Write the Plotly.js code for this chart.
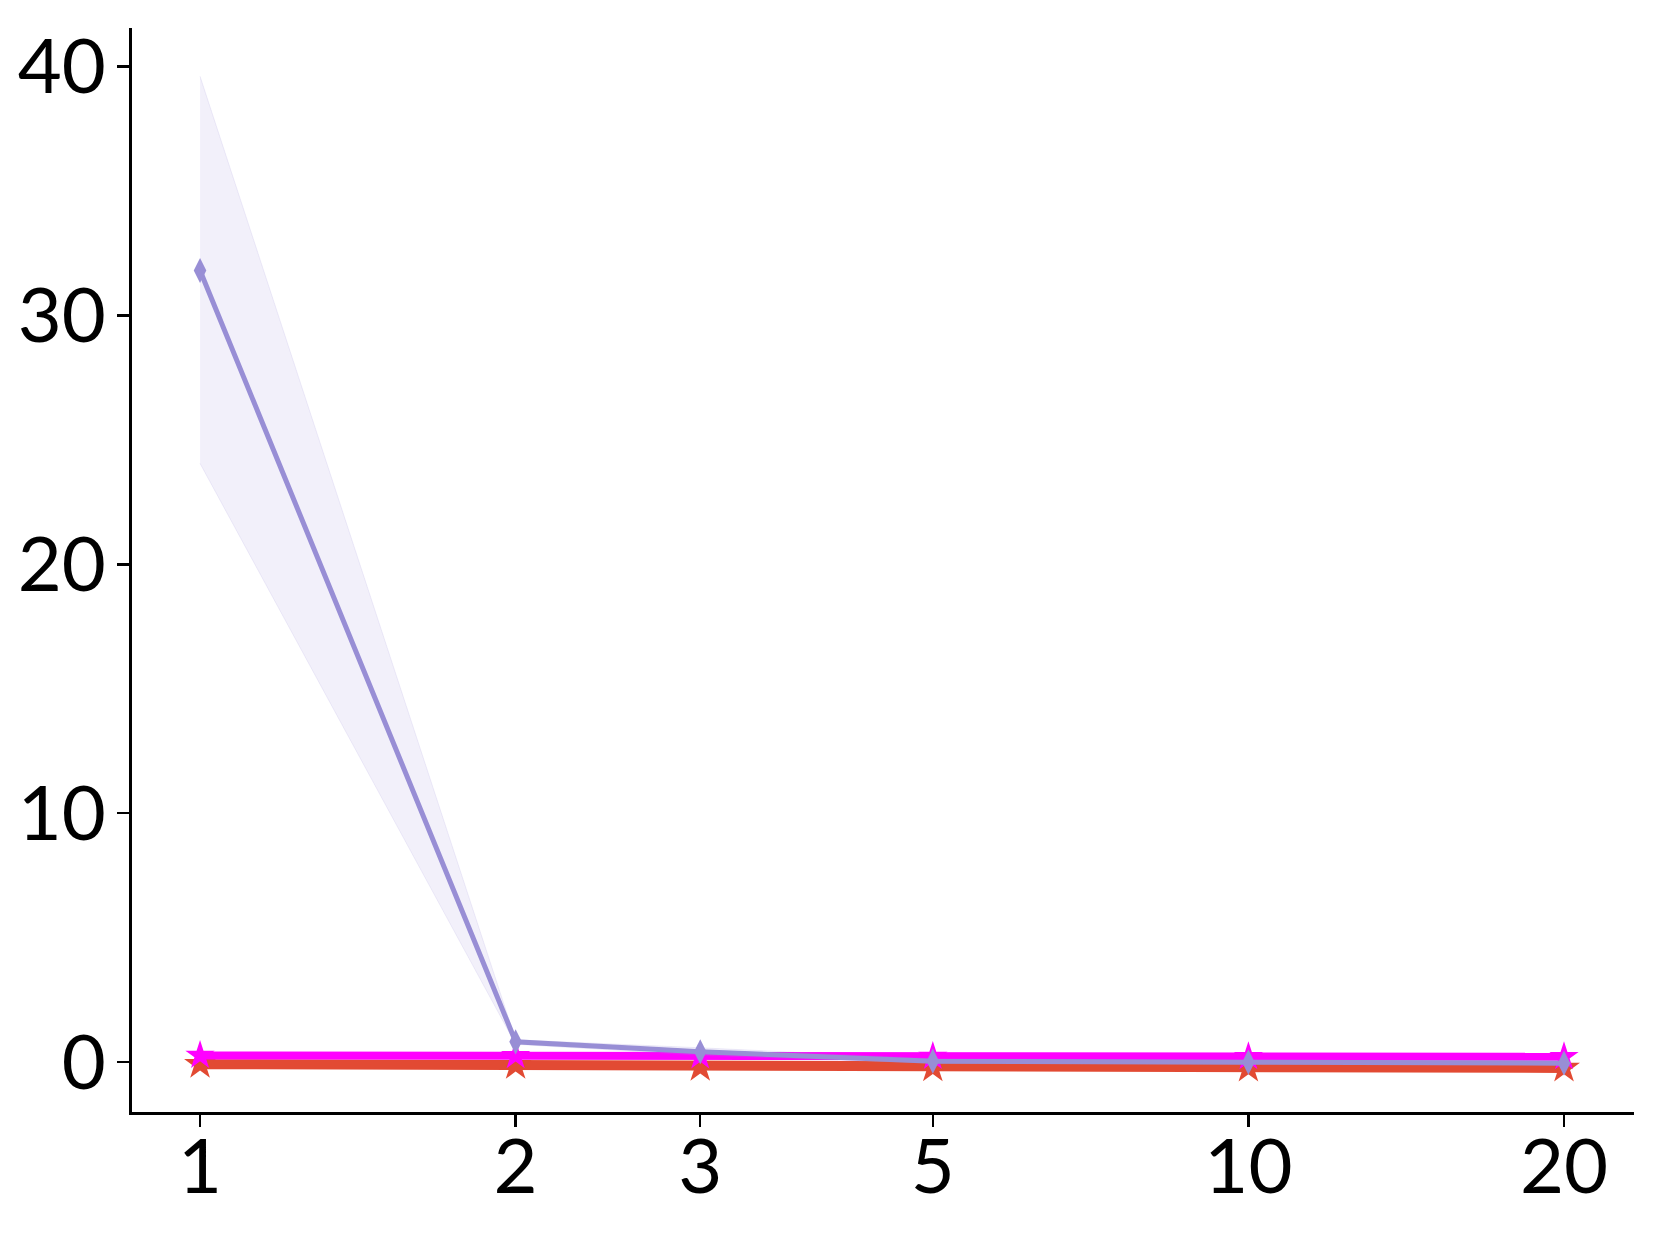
<!DOCTYPE html>
<html>
<head>
<meta charset="utf-8">
<script src="https://cdn.plot.ly/plotly-3.0.1.min.js"></script>
<style>html,body{margin:0;padding:0;background:#fff;}</style>
</head>
<body>
<div id="chart" style="width:1659px;height:1238px;"></div>
<script>
// Data
const xValues = [1, 2, 3, 5, 10, 20];
const xTickLabels = ["1", "2", "3", "5", "10", "20"];
const yTickValues = [0, 10, 20, 30, 40];
const redSeries = [-0.08, -0.12, -0.2, -0.22, -0.23, -0.23];
const magentaSeries = [0.27, 0.26, 0.25, 0.23, 0.22, 0.22];
const purpleSeries = [31.8, 0.82, 0.42, 0.04, 0.0, -0.04];
const purpleUpper = [39.6, 0.9, 0.58, 0.14, 0.08, 0.06];
const purpleLower = [24.05, 0.72, 0.28, -0.04, -0.06, -0.1];

const bandX = xValues.concat(xValues.slice().reverse());
const bandY = purpleUpper.concat(purpleLower.slice().reverse());

const traces = [
  {
    x: xValues, y: redSeries, type: 'scatter', mode: 'lines+markers',
    line: {color: '#E24A33', width: 10},
    marker: {symbol: 'star', size: 24, color: '#E24A33', line: {width: 0}},
    showlegend: false
  },
  {
    x: xValues, y: magentaSeries, type: 'scatter', mode: 'lines+markers',
    line: {color: '#FF00FF', width: 8},
    marker: {symbol: 'star', size: 22, color: '#FF00FF', line: {width: 0}},
    showlegend: false
  },
  {
    x: bandX, y: bandY, type: 'scatter', mode: 'lines', fill: 'toself',
    fillcolor: 'rgba(152,142,213,0.13)',
    line: {color: 'rgba(152,142,213,0.15)', width: 1},
    showlegend: false, hoverinfo: 'skip'
  },
  {
    x: xValues, y: purpleSeries, type: 'scatter', mode: 'lines+markers',
    line: {color: '#988ED5', width: 5},
    marker: {symbol: 'diamond-tall', size: 18, color: '#988ED5', line: {width: 0}},
    showlegend: false
  }
];

const tickFont = {family: 'Lato, "Open Sans", sans-serif', size: 76, color: '#000'};

const layout = {
  width: 1659, height: 1238,
  margin: {l: 132, r: 25, t: 28, b: 126},
  paper_bgcolor: '#fff', plot_bgcolor: '#fff',
  xaxis: {
    type: 'log',
    range: [-0.0649, 1.3678],
    tickvals: xValues, ticktext: xTickLabels,
    showgrid: false, zeroline: false,
    showline: true, linecolor: '#000', linewidth: 3,
    ticks: 'outside', ticklen: 12, tickwidth: 2.5, tickcolor: '#000',
    ticklabelstandoff: -25,
    tickfont: tickFont
  },
  yaxis: {
    range: [-2.0, 41.54],
    tickvals: yTickValues,
    showgrid: false, zeroline: false,
    showline: true, linecolor: '#000', linewidth: 3,
    ticks: 'outside', ticklen: 12, tickwidth: 2.5, tickcolor: '#000',
    ticklabelstandoff: -4,
    tickfont: tickFont
  },
  showlegend: false
};

Plotly.newPlot('chart', traces, layout, {displayModeBar: false, staticPlot: true});
</script>
</body>
</html>
